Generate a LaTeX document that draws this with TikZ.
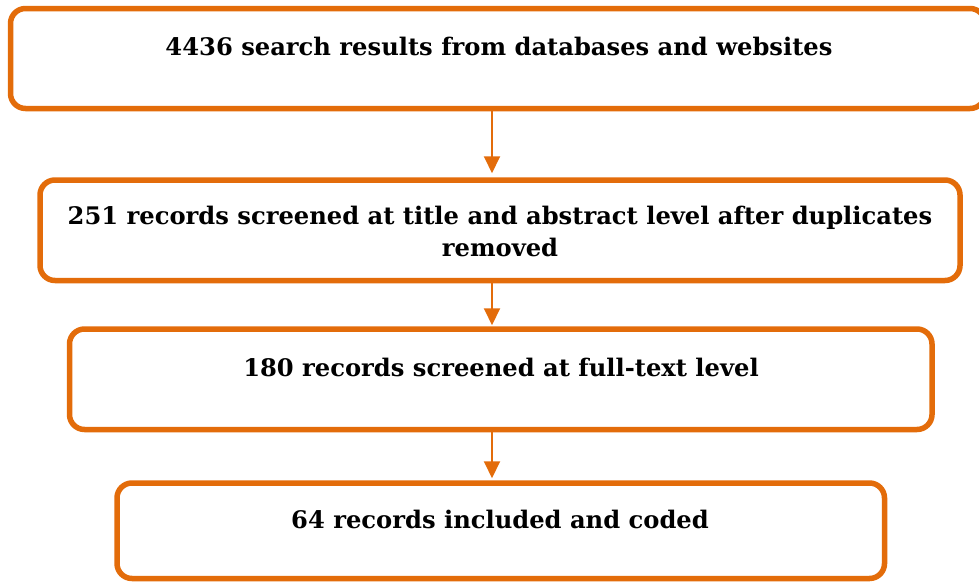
\documentclass[tikz,border=0pt]{standalone}
\usepackage{fontspec}
\setmainfont{DejaVu Serif}
\usetikzlibrary{arrows.meta}
\definecolor{flow}{HTML}{E36C0A}
\begin{document}
\begin{tikzpicture}[x=1pt,y=-1pt,
  stage/.style={draw=flow, fill=white, line width=5.5pt, rounded corners=15pt, inner sep=0pt},
  caption/.style={font=\fontsize{24.2}{32}\selectfont\bfseries, align=center, inner sep=0pt},
  flowarrow/.style={draw=flow, line width=2pt, -{Triangle[length=17pt,width=16pt]}}]
\useasboundingbox (0,0) rectangle (979,581);

% stage boxes
\node[stage, minimum width=974.5pt, minimum height=100pt] (b1) at (497.75,58.5) {};
\node[stage, minimum width=920pt, minimum height=100.5pt] (b2) at (500,230.25) {};
\node[stage, minimum width=862.5pt, minimum height=100.5pt] (b3) at (500.75,379.25) {};
\node[stage, minimum width=767.5pt, minimum height=95.5pt] (b4) at (500.75,530.75) {};

% box captions
\node[caption, anchor=base] (t1) at (499,55) {4436 search results from databases and websites};
\node[caption, anchor=center] (t2) at (500,231) {251 records screened at title and abstract level after duplicates\\removed};
\node[caption, anchor=base] (t3) at (501,376.5) {180 records screened at full-text level};
\node[caption, anchor=base] (t4) at (500,528) {64 records included and coded};

% connectors
\coordinate (ax) at (492,0);
\draw[flowarrow, shorten >=4pt] (b1.south -| ax) -- (b2.north -| ax);
\draw[flowarrow, shorten >=1pt] (b2.south -| ax) -- (b3.north -| ax);
\draw[flowarrow, shorten >=2pt] (b3.south -| ax) -- (b4.north -| ax);
\end{tikzpicture}
\end{document}
